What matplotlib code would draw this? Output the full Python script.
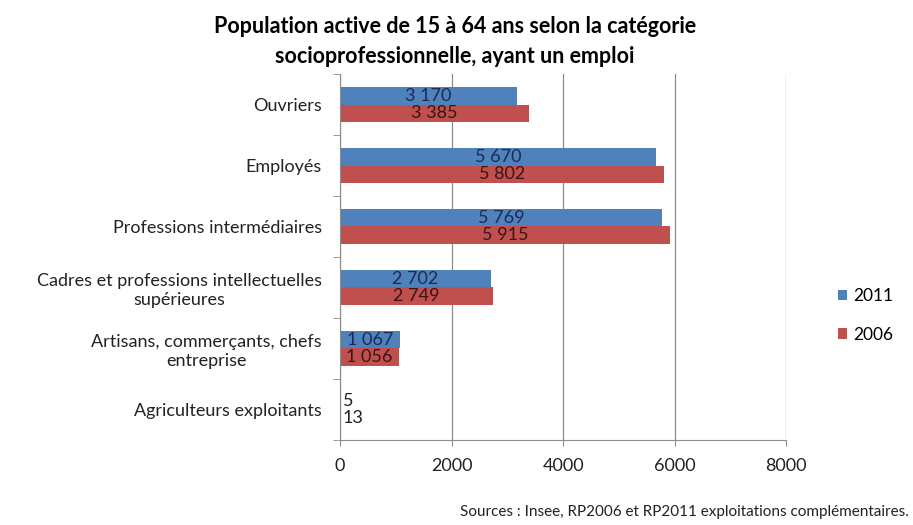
import numpy as np
import matplotlib.pyplot as plt

plt.rcParams['font.family'] = ['Lato', 'DejaVu Sans']

categories = ['Ouvriers', 'Employés', 'Professions intermédiaires',
              'Cadres et professions intellectuelles\nsupérieures',
              'Artisans, commerçants, chefs\nentreprise',
              'Agriculteurs exploitants']
values_2011 = [3170, 5670, 5769, 2702, 1067, 5]
values_2006 = [3385, 5802, 5915, 2749, 1056, 13]
x_ticks = [0, 2000, 4000, 6000, 8000]

blue = '#4F81BD'
red = '#C0504D'
grey = '#8C8C8C'


def fr(v):
    return '{:,}'.format(v).replace(',', ' ')


fig = plt.figure(figsize=(9.13, 5.25), dpi=100)
ax = fig.add_axes([0.3724, 0.162, 0.4888, 0.697])

y = np.arange(len(categories))
h = 0.29
ax.barh(y - h / 2, values_2011, height=h, color=blue, label='2011')
ax.barh(y + h / 2, values_2006, height=h, color=red, label='2006')

for yy, v, c in [(y - h / 2, values_2011, '#1c2a55'), (y + h / 2, values_2006, '#3a1414')]:
    for i in range(len(v)):
        if v[i] < 500:
            ax.annotate(fr(v[i]), (0, yy[i]), xytext=(2, 0), textcoords='offset points',
                        ha='left', va='center', fontsize=13, color='#222222')
        else:
            ax.text(v[i] / 2, yy[i], fr(v[i]), ha='center', va='center',
                    fontsize=13, color=c)

ax.set_xlim(0, 8000)
ax.set_ylim(len(categories) - 0.5, -0.5)
ax.set_xticks(x_ticks)
ax.set_xticklabels([str(t) for t in x_ticks], fontsize=13, color='#222222')
ax.tick_params(axis='x', length=4, color=grey, pad=9)
ax.set_yticks(y)
ax.set_yticklabels(categories, fontsize=13, color='#222222', multialignment='center',
                   linespacing=1.25)
ax.tick_params(axis='y', which='major', length=0, pad=13)
ax.set_yticks(np.arange(len(categories) + 1) - 0.5, minor=True)
ax.tick_params(axis='y', which='minor', length=5, color=grey)

ax.grid(axis='x', color=grey, linewidth=0.9)
ax.set_axisbelow(True)
for s in ['top', 'right']:
    ax.spines[s].set_visible(False)
for s in ['left', 'bottom']:
    ax.spines[s].set_color(grey)

fig.text(0.498, 0.97, 'Population active de 15 à 64 ans selon la catégorie\nsocioprofessionnelle, ayant un emploi',
         ha='center', va='top', fontsize=15.5, fontweight='bold', linespacing=1.55)

ax.legend(loc='center left', bbox_to_anchor=(1.08, 0.34), frameon=False, fontsize=12.5,
          handlelength=0.55, handleheight=0.55, handletextpad=0.35, labelspacing=1.3)

fig.text(0.995, 0.012, 'Sources : Insee, RP2006 et RP2011 exploitations complémentaires.',
         ha='right', va='bottom', fontsize=11, color='#222222')

fig.savefig('out.png', dpi=100)
